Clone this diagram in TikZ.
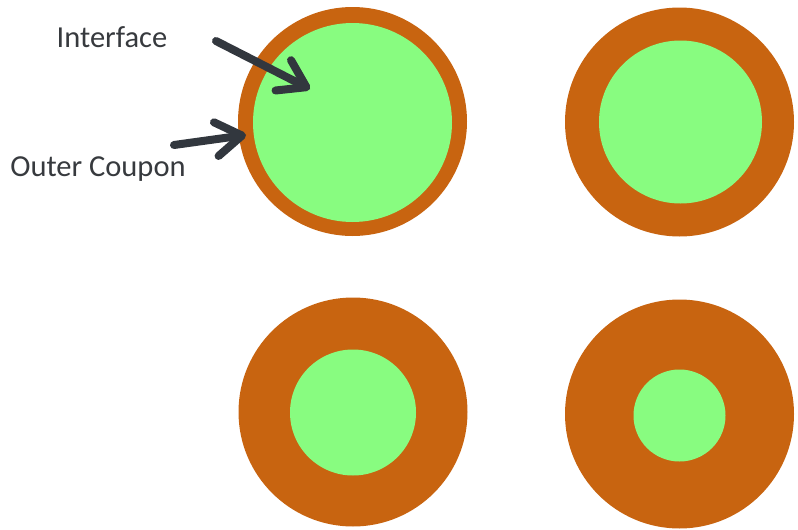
\documentclass[tikz,border=0pt]{standalone}
\usepackage{fontspec}
\setmainfont{Carlito}
\usetikzlibrary{arrows.meta}
\definecolor{coupon}{RGB}{200,100,16}
\definecolor{iface}{RGB}{136,252,128}
\definecolor{arrowgray}{RGB}{50,55,62}
\definecolor{textgray}{RGB}{55,58,62}
\tikzset{
  outerc/.style={circle, fill=coupon, draw=none, inner sep=0pt, minimum size=#1},
  innerc/.style={circle, fill=iface, draw=none, inner sep=0pt, minimum size=#1},
  lbl/.style={text=textgray, font=\fontsize{30.5}{36}\selectfont, inner sep=0pt, anchor=base},
  pointer/.style={draw=arrowgray, line width=8pt, line cap=round,
    -{Straight Barb[length=26pt, width=34pt, round]}}
}
\begin{document}
\begin{tikzpicture}[x=1pt, y=-1pt]
\useasboundingbox (0,0) rectangle (798,530);
% circles
\node[outerc=229pt] (o1) at (352.5,121.5) {};
\node[innerc=199pt] (i1) at (352.5,122.5) {};
\node[outerc=229pt] (o2) at (679.5,122) {};
\node[innerc=163pt] (i2) at (680.5,122) {};
\node[outerc=229pt] (o3) at (353,412) {};
\node[innerc=126pt] (i3) at (353,412.5) {};
\node[outerc=229pt] (o4) at (679.5,414) {};
\node[innerc=92pt] (i4) at (679.5,415.5) {};
% labels
\node[lbl] (tif) at (112,47) {Interface};
\node[lbl] (toc) at (98,176) {Outer Coupon};
% arrows
\coordinate (a1s) at (216,41);
\coordinate (a1e) at (310,89);
\coordinate (a2s) at (174,145);
\coordinate (a2e) at (246,135);
\draw[pointer] (a1s) -- (a1e);
\draw[pointer] (a2s) -- (a2e);
\end{tikzpicture}
\end{document}
